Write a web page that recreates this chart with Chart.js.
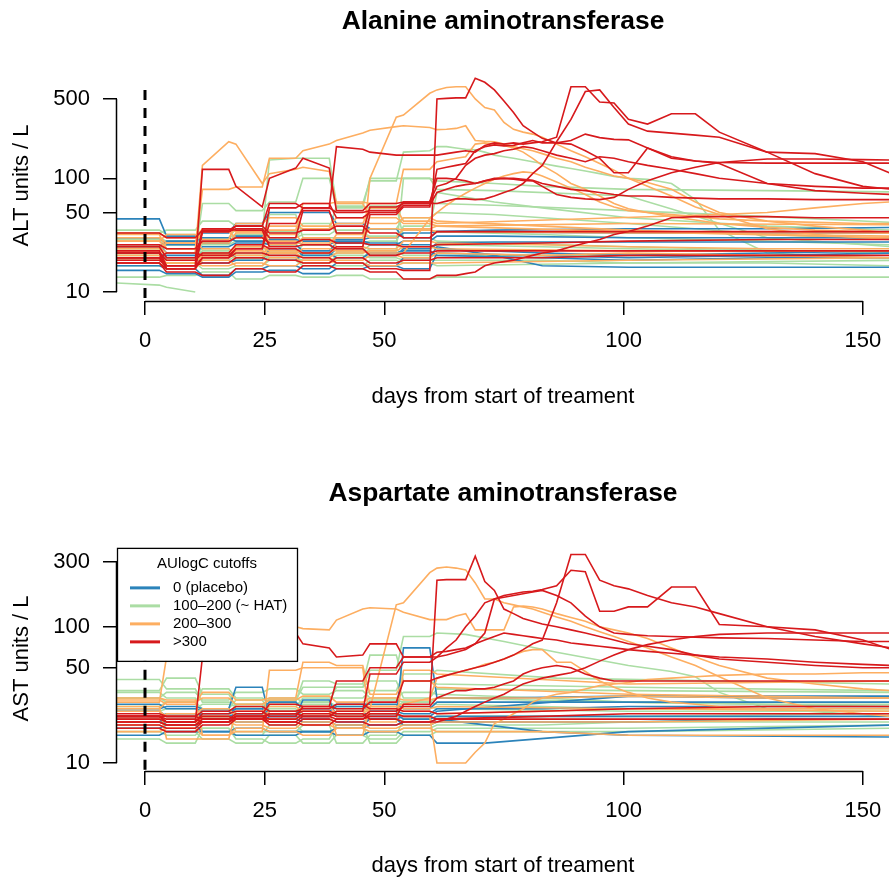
<!DOCTYPE html>
<html><head><meta charset="utf-8">
<script src="https://cdn.jsdelivr.net/npm/chart.js@4.4.1/dist/chart.umd.min.js"></script>
<style>
html,body{margin:0;padding:0;background:#fff;overflow:hidden;width:889px;height:878px;}
canvas{position:absolute;left:0;}
#c1{top:0}
#c2{top:414px}
</style></head><body>
<canvas id="c1" width="889" height="414"></canvas>
<canvas id="c2" width="889" height="470"></canvas>
<script>
const _ = null;
// shared time grid (days from start of treatment)
const DAYS = [-6,3,4.5,10.5,12,17.5,19,24.5,26,31.5,33,38.5,40,45.5,47,52.5,54,59.5,61,
  63,65,67,69,71,73,75,77,79,81,83,86,89,92,95,98,101,105,110,115,120,130,140,150,156];

const GROUP_LABELS = ['0 (placebo)','100\u2013200 (~ HAT)','200\u2013300','>300'];
const GROUP_COLORS = ['#2B83BA','#ABDDA4','#FDAE61','#D7191C'];
const X_TICKS = [0,25,50,100,150];
const ALT_TICKS = [10,50,100,500];
const AST_TICKS = [10,50,100,300];

// ---------- ALT ----------
const ALT_PLACEBO = [
 [44,44,31,31,33,33,40,40,50,50,50,50,40,40,36,36,30,30,34, _,_,_,_,_,35,_,_,_,_,_,_,_,_,_,_,36,_,_,_,_,36,_,_,37],
 [26,26,22,22,25,25,27,27,26,26,23,23,27,27,26,26,28,28,31, _,_,_,_,_,31,_,_,_,_,_,_,_,_,_,_,30,_,_,_,_,30,_,_,30],
 [22,22,20,20,18,18,19,19,24,24,21,21,24,24,21,21,24,24,27, _,_,_,_,_,27.5,_,_,_,_,_,_,_,_,_,_,27.5,_,_,_,_,27.5,_,_,27.5],
 [17,17,16,16,14,14,16,16,17,17,16,16,18,18,17,17,20,20,25, _,_,_,_,_,21,_,_,_,_,17,_,_,_,_,_,16.5,_,_,_,_,16.5,_,_,16.5],
 [15.5,15.5,14.5,14.5,13.5,13.5,15,15,15.5,15.5,14.5,14.5,16,16,17,17,16,16,22, _,_,_,_,_,_,_,_,_,_,_,_,_,_,_,_,20,_,_,_,_,21,_,_,22],
 [25,25,28,28,30,30,28,28,29,29,28,28,29,29,30,30,33,33,34, _,_,_,_,_,_,_,_,_,_,_,_,_,_,_,_,33,_,_,_,_,_,_,_,33],
 [20,20,21,21,22,22,20,20,19,19,22,22,20,20,22,22,23,23,21, _,_,_,_,_,_,_,_,_,_,20,_,_,_,_,_,19,_,_,_,_,20,_,_,20],
 [30,30,26,26,27,27,31,31,28,28,26,26,28,28,27,27,26,26,24, _,_,_,_,_,_,_,_,_,_,22,_,_,_,_,_,21,_,_,_,_,22,_,_,23]
];
const ALT_HAT = [
 [30,30,26,26,30,30,32,32,145,150,150,150,60,60,95,95,170,175,190, 190,185,180,178,170,160,155,150,145,140,135,128,122,116,110,104,100,98,90,65,35,22,21,20,20],
 [20,20,22,22,60,60,52,52,62,62,100,100,55,55,100,100,100,100,95, _,_,_,_,_,90,_,_,_,_,85,_,_,_,_,_,80,_,_,_,_,78,_,_,76],
 [33,33,35,35,42,42,38,38,30,30,36,36,57,57,55,55,62,62,60, _,_,_,_,_,58,_,_,_,_,_,_,_,_,_,_,52,_,_,_,_,46,_,_,41],
 [12,11.5,11,10],
 [13.5,13.5,14,14,15,15,13,13,14,14,13.5,13.5,14,14,13,13,13,13,13.5, _,_,_,_,_,_,_,_,_,_,_,_,_,_,_,_,13.5,_,_,_,_,13.5,_,_,13.5],
 [30,30,28,28,30,30,36,36,30,30,32,32,35,35,36,36,45,45,50, _,_,_,_,_,48,_,_,_,_,_,_,_,_,_,_,40,_,_,_,_,32,_,_,29],
 [25,25,22,22,24,24,22,22,48,48,30,30,30,30,57,57,30,30,28, _,_,_,_,_,_,_,_,_,_,_,_,_,_,_,_,25,_,_,_,_,_,_,_,22],
 [17,17,18,18,16,16,17,17,19,19,17,17,17,17,19,19,18,18,17, _,_,_,_,_,_,_,_,_,_,_,_,_,_,_,_,18,_,_,_,_,_,_,_,19],
 [21,21,19,19,22,22,20,20,23,23,21,21,22,22,24,24,21,21,21, _,_,_,_,_,_,_,_,_,_,_,_,_,_,_,_,21,_,_,_,_,_,_,_,20],
 [29,29,24,24,26,26,28,28,26,26,29,29,27,27,28,28,38,38,75, _,_,_,_,_,62,_,_,_,_,55,_,_,_,_,_,45,_,_,_,_,38,_,_,35],
 [22,22,20,20,19,19,21,21,20,20,19,19,20,20,23,23,100,100,80, _,_,_,_,_,78,_,_,_,_,_,_,_,_,_,_,70,_,_,_,_,30,_,_,25],
 [24,24,26,26,21,21,25,25,22,22,26,26,23,23,26,26,24,24,26, _,_,_,_,_,_,_,_,_,_,25,_,_,_,_,_,24,_,_,_,_,23,_,_,23],
 [19,19,20,20,23,23,19,19,21,21,18,18,21,21,20,20,19,19,19, _,_,_,_,_,_,_,_,_,_,19,_,_,_,_,_,18,_,_,_,_,18,_,_,17],
 [35,35,32,32,27,27,31,31,34,34,40,40,33,33,31,31,35,35,34, _,_,_,_,_,_,_,_,_,_,32,_,_,_,_,_,30,_,_,_,_,28,_,_,26]
];
const ALT_MID = [
 [25,25,22,22,130,210,200,90,110,120,125,115,60,60,45,45,40,40,38, _,_,_,_,_,_,_,_,_,_,_,_,_,_,_,_,34,_,_,_,_,_,_,_,30],
 [28,28,24,24,80,80,84,84,150,150,175,200,215,250,265,285,290,280,268, 270,275,290,215,212,210,200,190,182,175,165,150,140,125,115,105,100,92,80,62,50,42,38,35,33],
 [24,24,20,20,22,22,25,25,23,23,22,22,24,24,100,345,360,560,600, 630,640,640,500,420,400,310,270,255,245,230,200,175,155,135,118,100,85,70,56,48,36,32,30,29],
 [20,20,18,18,21,21,20,20,22,22,24,24,23,23,22,22,22,44,50, 58,66,74,82,90,98,105,110,114,112,105,93,82,72,62,56,52,50,48,46,44,42,41,40,40],
 [33,33,30,30,36,36,34,34,38,38,36,36,40,40,55,55,42,42,40, _,_,_,_,_,_,_,_,_,_,_,_,_,_,_,_,_,_,_,_,48,50,55,60,62],
 [32,32,24,24,20,20,26,26,32,32,27,27,30,30,36,36,35,35,34, _,_,_,_,_,_,_,_,_,_,_,_,_,_,_,_,33,_,_,_,_,_,_,_,33],
 [19,19,18,18,17,17,18,18,17,17,19,19,18,18,17,17,18,18,18, _,_,_,_,_,_,_,_,_,_,_,_,_,_,_,_,19,_,_,_,_,_,_,_,20],
 [21,21,19,19,21,21,23,23,22,22,20,20,22,22,23,23,25,25,24, _,_,_,_,_,_,_,_,_,_,_,_,_,_,_,_,23,_,_,_,_,_,_,_,23],
 [30,30,27,27,34,34,30,30,35,35,60,60,62,62,60,60,120,120,140, 145,150,155,200,205,200,195,185,170,150,130,110,90,80,70,60,54,50,46,43,40,37,35,34,33],
 [26,26,24,24,27,27,33,33,28,28,26,26,32,32,30,30,36,36,38, _,_,_,_,_,_,_,_,_,_,_,_,_,_,_,_,40,_,_,_,_,_,_,_,39],
 [23,23,27,27,24,24,21,21,26,26,30,30,25,25,24,24,28,28,27, _,_,_,_,_,_,_,_,_,_,26,_,_,_,_,_,25,_,_,_,_,24,_,_,24],
 [18,18,16,16,19,19,17,17,20,20,18,18,19,19,21,21,20,20,22, _,_,_,_,_,_,_,_,_,_,21,_,_,_,_,_,22,_,_,_,_,21,_,_,20],
 [28,28,32,32,29,29,40,40,45,45,38,38,45,45,40,40,45,45,42, _,_,_,_,_,_,_,_,_,_,38,_,_,_,_,_,35,_,_,_,_,32,_,_,31]
];
const ALT_HIGH = [
 [18,18,16,16,20,20,22,22,21,21,20,20,18,18,16,16,15.5,15.5,500, 505,510,510,760,700,600,480,380,290,255,225,205,200,175,150,112,112,185,150,142,135,90,78,74,72],
 [25,25,20,20,34,34,38,38,60,60,55,55,190,180,170,160,160,160,160, 165,170,175,170,195,205,200,205,200,205,210,230,640,640,470,460,330,300,370,370,255,170,165,140,110],
 [20,20,17,17,120,120,85,56,100,123,150,123,52,52,60,60,62,62,85, 90,100,130,150,160,165,175,180,190,185,175,160,150,140,155,150,140,130,120,110,100,90,85,82,82],
 [18,18,15,15,14,14,16,16,15,15,17,17,16,16,15,15,13,13,14, 14,14,14.5,15,17,18,18.5,19,20,21,22,23,25,27,29,32,34,38,45,46,46,46,45,45,45],
 [20,20,22,22,21,21,24,24,40,40,55,55,50,50,52,52,62,62,100, 100,98,95,90,95,98,100,98,96,95,85,72,68,66,65,68,80,95,112,125,138,148,148,146,145],
 [22,22,19,19,22,22,26,26,24,24,22,22,25,25,48,48,56,56,120, 125,130,135,175,190,197,193,195,205,215,205,205,215,245,228,220,218,185,155,142,138,136,136,136,136],
 [23,23,17,17,20,20,24,24,55,55,60,60,45,45,50,50,58,58,75, 80,85,88,90,95,100,100,100,98,96,90,85,80,78,75,72,70,70,68,67,66,66,65,65,65],
 [20,20,16,16,34,34,36,36,30,30,52,52,33,33,56,56,60,60,60, 63,66,66,65,66,70,75,80,90,110,130,210,330,580,600,420,300,260,250,240,230,170,110,85,80],
 [33,33,30,30,35,35,38,38,33,33,35,35,38,38,33,33,30,30,34, _,_,_,_,_,_,_,_,_,_,_,_,_,_,_,_,34,_,_,_,_,_,_,_,34],
 [22,22,16,16,36,36,35,35,25,25,26,26,24,24,21,21,22,22,23, _,_,_,_,_,_,_,_,_,_,_,_,_,_,_,_,23,_,_,_,_,_,_,_,23],
 [26,26,24,24,28,28,30,30,27,27,29,29,27,27,26,26,25,25,26, _,_,_,_,_,_,_,_,_,_,27,_,_,_,_,_,28,_,_,_,_,29,_,_,29],
 [19,19,17,17,18,18,20,20,19,19,18,18,20,20,18,18,19,19,20, _,_,_,_,_,_,_,_,_,_,20,_,_,_,_,_,21,_,_,_,_,21,_,_,21]
];

// ---------- AST ----------
const AST_PLACEBO = [
 [25,25,26,26,25,25,36,36,22,22,29,29,22,22,22,22,70,70,30, _,_,_,_,_,30,_,_,_,_,_,_,_,_,_,_,31,_,_,_,_,30,_,_,30],
 [27,27,25,25,24,24,25,25,28,28,25,25,27,27,27,27,25,25,28, _,_,_,_,_,_,_,_,_,_,_,_,_,_,_,_,28,_,_,_,_,_,_,_,28],
 [21,21,19,19,20,20,22,22,21,21,20,20,19,19,21,21,22,22,24, _,_,_,_,_,_,_,_,_,_,_,_,_,_,_,_,31,_,_,_,_,31,_,_,31],
 [18,18,19,19,17,17,18,18,17,17,17,17,18,18,19,19,20,20,21, _,_,_,_,_,_,_,_,_,_,17,_,_,_,_,_,16,_,_,_,_,_,_,_,15.5],
 [16,16,17,17,17,17,16,16,16,16,17,17,16,16,17,17,16,16,14, _,_,_,_,14,_,_,_,_,_,_,_,_,_,_,_,17,_,_,_,_,_,_,_,19],
 [22,22,23,23,22,22,23,23,24,24,22,22,23,23,23,23,21,21,22, _,_,_,_,_,_,_,_,_,_,_,_,_,_,_,_,22,_,_,_,_,_,_,_,22],
 [20,20,19,19,21,21,20,20,22,22,21,21,20,20,21,21,19,19,20, _,_,_,_,_,_,_,_,_,_,20,_,_,_,_,_,20,_,_,_,_,21,_,_,21],
 [24,24,22,22,23,23,25,25,23,23,24,24,26,26,24,24,23,23,25, _,_,_,_,_,_,_,_,_,_,25,_,_,_,_,_,26,_,_,_,_,26,_,_,26]
];
const AST_HAT = [
 [33,33,30,30,22,22,27,27,29,29,36,36,36,36,48,48,85,85,90, _,_,88,_,_,_,78,_,_,_,_,65,_,_,_,_,52,_,47,43,33,25,_,_,22],
 [41,41,35,35,28,28,27,27,26,26,30,30,30,30,34,34,45,45,48, _,_,_,_,_,_,_,_,_,_,_,42,_,_,_,_,_,_,_,_,_,_,_,_,38],
 [34,34,42,42,32,32,26,26,30,30,28,28,36,36,40,40,30,30,35, _,_,_,_,_,_,_,_,_,_,_,_,_,_,_,_,34,_,_,_,_,_,_,_,33],
 [15,15,14,14,18,18,15,15,14,14,15,15,19,19,14,14,16,16,17, _,_,_,_,_,_,_,_,_,_,_,_,_,_,_,_,17,_,_,_,_,_,_,_,18],
 [18,18,17,17,15,15,14,14,16,16,14,14,16,16,15,15,17,17,18, _,_,_,_,_,_,_,_,_,_,_,_,_,_,_,_,18,_,_,_,_,_,_,_,19],
 [20,20,21,21,24,24,23,23,25,25,22,22,24,24,24,24,26,26,25, _,_,_,_,_,_,_,_,_,_,_,_,_,_,_,_,24,_,_,_,_,_,_,_,24],
 [24,24,25,25,27,27,26,26,27,27,28,28,26,26,29,29,28,28,30, _,_,_,_,_,_,_,_,_,_,_,_,_,_,_,_,28,_,_,_,_,_,_,_,26],
 [22,22,19,19,21,21,17,17,17,17,19,19,14,14,16,16,21,21,22, _,_,_,_,_,_,_,_,_,_,_,_,_,_,_,_,22,_,_,_,_,_,_,_,23],
 [30,30,28,28,35,35,30,30,28,28,40,40,38,38,62,62,40,40,38, _,_,_,_,_,_,_,_,_,_,_,_,_,_,_,_,36,_,_,_,_,_,_,_,34],
 [26,26,28,28,25,25,29,29,24,24,27,27,25,25,26,26,28,28,27, _,_,_,_,_,_,_,_,_,_,26,_,_,_,_,_,25,_,_,_,_,25,_,_,25],
 [17,17,16,16,18,18,16,16,19,19,17,17,18,18,17,17,18,18,19, _,_,_,_,_,_,_,_,_,_,19,_,_,_,_,_,20,_,_,_,_,20,_,_,20],
 [30,30,33,33,29,29,33,33,35,35,32,32,34,34,30,30,33,33,32, _,_,_,_,_,_,_,_,_,_,30,_,_,_,_,_,28,_,_,_,_,27,_,_,27]
];
const AST_MID = [
 [28,28,60,60,95,95,100,100,100,100,97,95,112,135,138,135,128,113,113, 113,120,125,95,95,95,95,140,142,140,135,125,117,110,100,95,90,82,70,60,52,42,38,35,34],
 [22,22,20,20,22,22,21,21,20,20,19,19,18,18,25,145,150,250,270, 275,270,262,210,160,160,150,145,140,135,128,118,110,100,92,85,78,70,60,52,43,30,25,23,22],
 [24,24,22,22,20,20,21,21,23,23,24,24,22,22,23,23,22,22,10, 10,10,10,12,14,19.5,21,23,25,28,30,32,33,35,37,38,39,41,42,43,44,45,45,46,46],
 [20,20,19,19,22,22,20,20,21,21,23,23,24,24,26,26,27,30,42, 44,46,48,50,53,55,58,62,66,68,68,55,55,47,40,36,33,30,28,27,26,26,26,26,26],
 [30,30,29,29,16,16,17,17,48,48,50,50,50,50,20,20,48,48,45, _,_,_,_,_,_,_,_,_,_,_,_,_,_,_,_,38,_,_,_,_,_,_,_,40],
 [19,19,18,18,20,20,19,19,18,18,20,20,19,19,18,18,19,19,20, _,_,_,_,_,_,_,_,_,_,_,_,_,_,_,_,20,_,_,_,_,_,_,_,21],
 [26,26,15,15,15,15,24,24,26,26,24,24,16,16,26,26,25,25,26, _,_,_,_,_,_,_,_,_,_,_,_,_,_,_,_,25,_,_,_,_,_,_,_,24],
 [29,29,27,27,33,33,29,29,30,30,55,55,52,52,32,32,40,40,36, _,_,_,_,_,_,_,_,_,_,_,_,_,_,_,_,32,_,_,_,_,_,_,_,30],
 [21,21,23,23,25,25,22,22,24,24,26,26,23,23,25,25,24,24,23, _,_,_,_,_,_,_,_,_,_,24,_,_,_,_,_,25,_,_,_,_,25,_,_,25],
 [17,17,18,18,16,16,18,18,17,17,16,16,18,18,17,17,18,18,17, _,_,_,_,_,_,_,_,_,_,17,_,_,_,_,_,16,_,_,_,_,16,_,_,16],
 [25,25,28,28,30,30,27,27,29,29,31,31,28,28,30,30,29,29,30, _,_,_,_,_,_,_,_,_,_,30,_,_,_,_,_,31,_,_,_,_,30,_,_,30]
];
const AST_HIGH = [
 [20,20,19,19,21,21,22,22,20,20,19,19,21,21,22,22,27,27,220, 222,222,222,330,215,185,135,125,115,110,105,100,95,90,85,80,75,72,68,62,58,55,52,50,50],
 [22,22,20,20,23,23,24,24,22,22,26,26,25,25,28,28,40,40,42, 44,46,48,50,52,55,58,62,68,75,80,150,340,340,220,200,190,170,150,140,125,100,85,75,70],
 [18,18,17,17,19,19,21,21,20,20,22,22,24,24,45,45,55,55,60, 70,80,100,120,150,160,170,175,180,182,188,200,260,254,130,130,140,140,196,196,104,100,95,80,68],
 [22,22,20,20,60,90,80,60,100,90,75,70,60,62,75,75,60,60,60, 62,65,68,75,80,85,90,88,86,84,82,80,76,74,72,70,68,66,64,62,60,58,55,53,52],
 [22,22,21,21,20,20,22,22,23,23,24,24,23,23,21,21,20,20,20, 21,22,24,26,28,30,32,35,38,40,42,44,46,50,56,62,68,74,80,85,88,90,90,90,90],
 [20,20,19,19,20,20,22,22,21,21,23,23,22,22,24,24,26,26,30, 32,34,34,35,35,36,38,40,45,48,50,52,50,45,42,40,40,40,40,40,40,40,40,40,40],
 [22,22,22,22,21,21,23,23,27,27,26,26,40,40,50,50,60,60,65, 66,68,70,75,90,160,165,170,175,180,185,170,150,120,100,90,88,86,85,84,83,82,80,78,78],
 [19,19,18,18,20,20,21,21,19,19,21,21,20,20,19,19,20,20,21, _,_,_,_,_,_,_,_,_,_,_,_,_,_,_,_,21,_,_,_,_,_,_,_,21],
 [23,23,22,22,24,24,26,26,24,24,25,25,27,27,25,25,24,24,23, _,_,_,_,_,_,_,_,_,_,24,_,_,_,_,_,25,_,_,_,_,26,_,_,26],
 [21,21,20,20,22,22,21,21,23,23,22,22,21,21,23,23,22,22,21, _,_,_,_,_,_,_,_,_,_,22,_,_,_,_,_,23,_,_,_,_,23,_,_,23]
];

const FONT = '"Liberation Sans", Arial, Helvetica, sans-serif';

function buildSets(groups){
  const sets = [];
  groups.forEach(([list, g]) => {
    list.forEach(vals => {
      const pts = [];
      DAYS.forEach((d, i) => { const v = vals[i]; if (v !== null && v !== undefined) pts.push({x: d, y: v}); });
      sets.push({data: pts, borderColor: GROUP_COLORS[g], borderWidth: 1.6, pointRadius: 0,
                 pointHoverRadius: 0, fill: false, tension: 0, spanGaps: true});
    });
  });
  return sets;
}

const rAxes = {
  id: 'rAxes',
  afterDatasetsDraw(chart, args, opts) {
    const {ctx, chartArea: ca, scales: {x, y}} = chart;
    ctx.save();
    ctx.strokeStyle = '#000';
    ctx.lineWidth = 3;
    ctx.setLineDash([10, 8]);
    const px = Math.round(x.getPixelForValue(0));
    ctx.beginPath();
    ctx.moveTo(px, y.getPixelForValue(opts.dashTop));
    ctx.lineTo(px, ca.bottom);
    ctx.stroke();
    ctx.setLineDash([]);
    ctx.lineWidth = 1.5;
    ctx.beginPath();
    const yb = Math.round(ca.bottom) + 0.5;
    ctx.moveTo(x.getPixelForValue(X_TICKS[0]), yb);
    ctx.lineTo(x.getPixelForValue(X_TICKS[X_TICKS.length - 1]), yb);
    const xl = Math.round(ca.left) - 0.5;
    ctx.moveTo(xl, y.getPixelForValue(opts.ticks[0]));
    ctx.lineTo(xl, y.getPixelForValue(opts.ticks[opts.ticks.length - 1]));
    ctx.stroke();
    ctx.restore();
  }
};

const rLegend = {
  id: 'rLegend',
  afterDraw(chart, args, opts) {
    if (!opts.show) return;
    const {ctx, chartArea: ca} = chart;
    const L = {x: ca.left, y: ca.top + 2, w: 180, h: 113};
    ctx.save();
    ctx.fillStyle = '#fff';
    ctx.fillRect(L.x, L.y, L.w, L.h);
    ctx.strokeStyle = '#000';
    ctx.lineWidth = 1.3;
    ctx.strokeRect(L.x + 0.5, L.y + 0.5, L.w, L.h);
    ctx.fillStyle = '#000';
    ctx.font = '15px ' + FONT;
    ctx.textBaseline = 'middle';
    ctx.textAlign = 'center';
    ctx.fillText('AUlogC cutoffs', L.x + L.w / 2, L.y + 16);
    ctx.textAlign = 'left';
    GROUP_LABELS.forEach((lab, i) => {
      const yy = L.y + 40 + 18 * i;
      ctx.strokeStyle = GROUP_COLORS[i];
      ctx.lineWidth = 3;
      ctx.beginPath();
      ctx.moveTo(L.x + 13, yy);
      ctx.lineTo(L.x + 43, yy);
      ctx.stroke();
      ctx.fillStyle = '#000';
      ctx.fillText(lab, L.x + 56, yy);
    });
    ctx.restore();
  }
};

function makeChart(id, cfg) {
  const sets = buildSets([[cfg.hat, 1], [cfg.placebo, 0], [cfg.mid, 2], [cfg.high, 3]]).reverse();
  return new Chart(document.getElementById(id), {
    type: 'line',
    data: {datasets: sets},
    options: {
      responsive: false, animation: false, devicePixelRatio: 1,
      events: [],
      layout: {padding: 0},
      plugins: {
        legend: {display: false},
        tooltip: {enabled: false},
        title: {display: true, text: cfg.title, fullSize: false, color: '#000',
                font: {family: FONT, size: 26.4, weight: 'bold', lineHeight: 1.2},
                padding: {top: cfg.titlePad[0], bottom: cfg.titlePad[1]}},
        rAxes: {dashTop: cfg.dashTop, ticks: cfg.ticks},
        rLegend: {show: cfg.legend}
      },
      scales: {
        x: {
          type: 'linear', min: -5.85, max: 155.45,
          afterBuildTicks: s => { s.ticks = X_TICKS.map(v => ({value: v})); },
          afterFit: s => { s.height = cfg.xh; s.paddingLeft = 0; s.paddingRight = 0; },
          grid: {display: true, drawOnChartArea: false, drawTicks: true, tickLength: 14, color: '#000', lineWidth: 1.5},
          border: {display: false},
          ticks: {color: '#000', font: {family: FONT, size: 22}, padding: 13, maxRotation: 0, autoSkip: false,
                  callback: v => String(v)},
          title: {display: true, text: 'days from start of treament', color: '#000',
                  font: {family: FONT, size: 22, lineHeight: 1.2}, padding: {top: 0, bottom: cfg.xtPad}}
        },
        y: {
          type: 'logarithmic', min: cfg.ymin, max: cfg.ymax,
          afterBuildTicks: s => { s.ticks = cfg.ticks.map(v => ({value: v})); },
          afterFit: s => { s.width = 117; s.paddingTop = 0; s.paddingBottom = 0; },
          grid: {display: true, drawOnChartArea: false, drawTicks: true, tickLength: 14, color: '#000', lineWidth: 1.5},
          border: {display: false},
          ticks: {color: '#000', font: {family: FONT, size: 22}, padding: 13, autoSkip: false,
                  callback: v => String(v)},
          title: {display: true, text: cfg.ytitle, color: '#000',
                  font: {family: FONT, size: 22, lineHeight: 1.2}, padding: {top: 8.8, bottom: 0}}
        }
      }
    },
    plugins: [rAxes, rLegend]
  });
}

makeChart('c1', {
  title: 'Alanine aminotransferase', ytitle: 'ALT units / L',
  placebo: ALT_PLACEBO, hat: ALT_HAT, mid: ALT_MID, high: ALT_HIGH,
  ticks: ALT_TICKS, ymin: 8.33, ymax: 900, dashTop: 600,
  titlePad: [6.1, 32.1], xh: 113, xtPad: 3.8, legend: false
});
makeChart('c2', {
  title: 'Aspartate aminotransferase', ytitle: 'AST units / L',
  placebo: AST_PLACEBO, hat: AST_HAT, mid: AST_MID, high: AST_HIGH,
  ticks: AST_TICKS, ymin: 8.735, ymax: 393, dashTop: 300,
  titlePad: [64.1, 36.1], xh: 113, xtPad: 4.8, legend: true
});
</script>
</body></html>
